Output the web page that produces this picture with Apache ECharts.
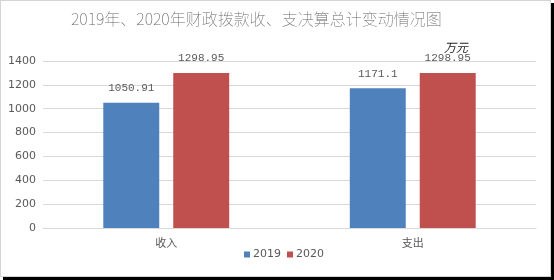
<!DOCTYPE html>
<html>
<head>
<meta charset="utf-8">
<script src="https://cdn.jsdelivr.net/npm/echarts@6/dist/echarts.min.js"></script>
<style>
html,body{margin:0;padding:0;background:#fff;}
#frame{position:absolute;left:0;top:0;width:551px;height:277px;box-sizing:border-box;border:1px solid #d4d4d4;box-shadow:3px 3px 0 #000;}
#chart{position:absolute;left:0;top:0;width:554px;height:280px;}
</style>
</head>
<body>
<div id="frame"></div>
<div id="chart"></div>
<script>
const categories = ['收入', '支出'];
const seriesNames = ['2019', '2020'];
const values2019 = [1050.91, 1171.1];
const values2020 = [1298.95, 1298.95];
const yTicks = [0, 200, 400, 600, 800, 1000, 1200, 1400];

const chart = echarts.init(document.getElementById('chart'), null, {renderer: 'canvas'});
const fontFam = '"Noto Sans CJK SC", "DejaVu Sans", sans-serif';
const labelStyle = {show: true, position: 'top', distance: 9, color: '#595959', fontSize: 11, fontFamily: '"Liberation Mono", "DejaVu Sans Mono", monospace', formatter: p => String(p.value)};
chart.setOption({
  backgroundColor: 'transparent',
  animation: false,
  title: {
    text: '2019年、2020年财政拨款收、支决算总计变动情况图',
    left: 66, top: 6,
    textStyle: {fontSize: 16, fontWeight: 'lighter', color: '#666666', fontFamily: fontFam}
  },
  legend: {
    data: seriesNames,
    left: 239, top: 244,
    itemWidth: 6, itemHeight: 6, itemGap: 6,
    icon: 'rect',
    textStyle: {fontSize: 11, color: '#595959', fontFamily: '"DejaVu Sans", sans-serif', padding: [0,0,0,-2]}
  },
  grid: {left: 43, right: 18, top: 61, bottom: 52},
  xAxis: {
    type: 'category',
    data: categories,
    axisLine: {lineStyle: {color: '#d9d9d9'}},
    axisTick: {show: false},
    axisLabel: {color: '#595959', fontSize: 11, fontFamily: fontFam, margin: 9}
  },
  yAxis: {
    type: 'value',
    min: yTicks[0], max: yTicks[yTicks.length - 1], interval: 200,
    axisLine: {show: false},
    axisTick: {show: false},
    splitLine: {lineStyle: {color: '#d9d9d9'}},
    axisLabel: {color: '#595959', fontSize: 11, fontFamily: '"DejaVu Sans", sans-serif', margin: 7, formatter: v => String(v)}
  },
  series: [
    {name: seriesNames[0], type: 'bar', data: values2019, barWidth: '22.7%', barGap: '25%',
     itemStyle: {color: '#4f81bd'}, label: labelStyle},
    {name: seriesNames[1], type: 'bar', data: values2020, barWidth: '22.7%',
     itemStyle: {color: '#c0504d'}, label: labelStyle}
  ],
  graphic: [{
    type: 'text', left: 444, top: 41,
    style: {text: '万元', fontSize: 12, fontStyle: 'italic', fill: '#222', fontFamily: fontFam}
  }]
});
</script>
</body>
</html>
